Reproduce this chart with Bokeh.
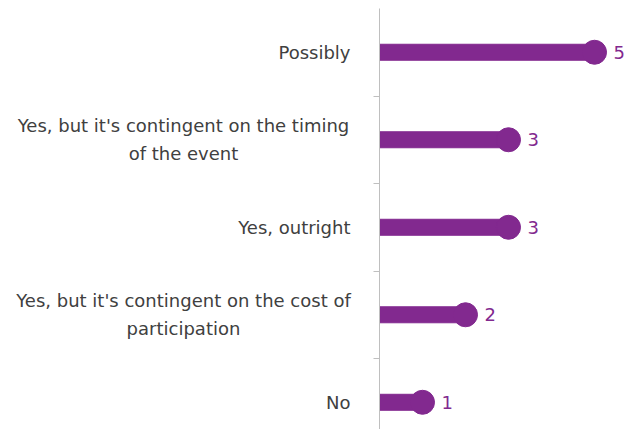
from bokeh.plotting import figure
from bokeh.layouts import row
from bokeh.models import FixedTicker, LinearAxis, ColumnDataSource, LabelSet, Range1d
from bokeh.core.properties import value
from bokeh.embed import file_html
from bokeh.resources import INLINE

categories = [
    "No",
    "Yes, but it's contingent on the cost of\nparticipation",
    "Yes, outright",
    "Yes, but it's contingent on the timing\nof the event",
    "Possibly",
]
counts = [1, 2, 3, 3, 5]

PURPLE = "#82298F"
GREY_TEXT = "#404040"
FONT = value("DejaVu Sans")
pos = list(range(len(categories)))
src = ColumnDataSource(dict(y=pos, v=counts, lab=[str(c) for c in counts]))

y_range = Range1d(-0.311, 4.5)
BORDER = 20

# main chart
p = figure(width=248 + BORDER, height=429, output_backend="svg", toolbar_location=None,
           x_range=Range1d(0, 5.767), y_range=y_range,
           x_axis_location=None, y_axis_location=None,
           min_border_left=BORDER, min_border_right=0, min_border_top=8, min_border_bottom=0,
           outline_line_color=None)
p.grid.visible = False

ax = LinearAxis(
    ticker=FixedTicker(ticks=[], minor_ticks=[i + 0.5 for i in pos[:-1]]),
    axis_line_color="#bfbfbf",
    major_tick_line_color=None, major_tick_out=0, major_tick_in=0,
    minor_tick_line_color="#bfbfbf", minor_tick_out=6, minor_tick_in=0,
)
p.add_layout(ax, "left")

p.hbar(y="y", left=0, right="v", height=16 / 87.5, color=PURPLE, source=src)
p.scatter(x="v", y="y", size=24, color=PURPLE, source=src)
p.add_layout(LabelSet(x="v", y="y", text="lab", source=src, x_offset=19,
                      text_baseline="middle", text_align="left", text_color=PURPLE,
                      text_font=FONT, text_font_size=value("18px")))

# category label panel sharing the y scale
wrapped = ["\n" in c for c in categories]
lab_src = ColumnDataSource(dict(
    y=pos, x=[1] * len(pos), t=categories,
    align=["center" if w else "right" for w in wrapped],
    xoff=[-(196 - BORDER) if w else -(29 - BORDER) for w in wrapped],
))
q = figure(width=379 - BORDER, height=429, output_backend="svg", toolbar_location=None,
           x_range=Range1d(0, 1), y_range=y_range,
           x_axis_location=None, y_axis_location=None,
           min_border_left=0, min_border_right=0, min_border_top=8, min_border_bottom=0,
           outline_line_color=None)
q.grid.visible = False
q.text(x="x", y="y", text="t", source=lab_src, x_offset="xoff", text_align="align",
       text_baseline="middle", text_color=GREY_TEXT, text_font=FONT,
       text_font_size=value("18px"), text_line_height=1.33)

layout = row(q, p, spacing=0)
open("out.html", "w").write(file_html(layout, INLINE))
